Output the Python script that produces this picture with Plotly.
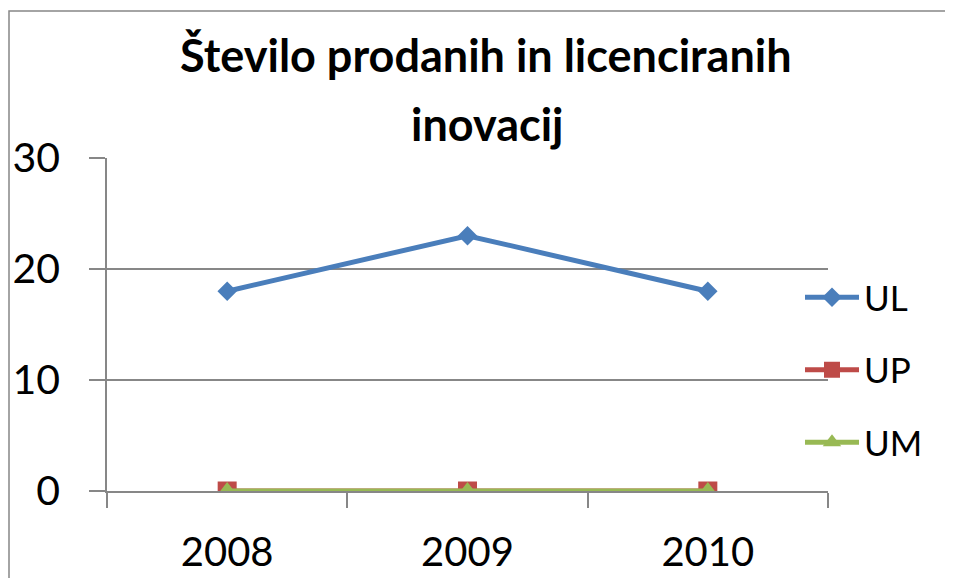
import plotly.graph_objects as go

years = ["2008", "2009", "2010"]
ul = [18, 23, 18]
up = [0, 0, 0]
um = [0, 0, 0]
title_lines = ["Število prodanih in licenciranih", "inovacij"]

# the page body adds an 8px offset; all reference pixel positions are shifted by it
OFF = 8
W, H = 953, 578
L, T = 107 - OFF, 158 - OFF
PR, PB = 828 - OFF, 491 - OFF
R, B = W - PR, H - PB
PW, PH = PR - L, PB - T

def px(x):
    return (x - OFF - L) / PW

def py(y):
    return (PB - (y - OFF)) / PH

FONT = "Lato"
GRID = "#878787"

fig = go.Figure()
fig.add_trace(go.Scatter(x=years, y=ul, name="UL", mode="lines+markers",
                         line=dict(color="#4A7EBB", width=5),
                         marker=dict(symbol="diamond", size=15, color="#4A7EBB"),
                         legendgroup="a"))
fig.add_trace(go.Scatter(x=years, y=up, name="UP", mode="lines+markers",
                         line=dict(color="#BE4B48", width=5),
                         marker=dict(symbol="square", size=19, color="#BE4B48"),
                         legendgroup="b"))
fig.add_trace(go.Scatter(x=years, y=um, name="UM", mode="lines+markers",
                         line=dict(color="#98B954", width=5),
                         marker=dict(symbol="triangle-up", size=18, color="#98B954"),
                         legendgroup="c"))

fig.update_layout(
    width=W, height=H,
    margin=dict(l=L, r=R, t=T, b=B, autoexpand=False),
    paper_bgcolor="white", plot_bgcolor="white",
    font=dict(family=FONT, color="black"),
    showlegend=True,
    legend=dict(x=px(800), y=py(268), xanchor="left", yanchor="top",
                font=dict(family=FONT, size=35, color="black"),
                tracegroupgap=24, itemwidth=54, bgcolor="rgba(0,0,0,0)"),
    xaxis=dict(type="category", range=[-0.5, 2.5], tickson="boundaries",
               ticks="outside", ticklen=15, tickcolor=GRID, tickwidth=1.5,
               showline=True, linecolor=GRID, linewidth=1.5, showgrid=False,
               tickfont=dict(family=FONT, size=40, color="black"),
               ticklabelstandoff=25, fixedrange=True),
    yaxis=dict(range=[0, 30], tickvals=[0, 10, 20, 30], ticks="outside", ticklen=16,
               tickcolor=GRID, tickwidth=1.5, showline=True, linecolor=GRID, linewidth=1.5,
               showgrid=True, gridcolor=GRID, gridwidth=1.5, zeroline=False,
               tickfont=dict(family=FONT, size=41, color="black"),
               ticklabelstandoff=21, fixedrange=True),
)

fig.add_annotation(text="<b>" + title_lines[0] + "</b>", xref="paper", yref="paper",
                   x=px(486), y=py(55), xanchor="center", yanchor="middle",
                   showarrow=False, font=dict(family=FONT, size=45, color="black"))
fig.add_annotation(text="<b>" + title_lines[1] + "</b>", xref="paper", yref="paper",
                   x=px(487), y=py(124), xanchor="center", yanchor="middle",
                   showarrow=False, font=dict(family=FONT, size=45, color="black"))

fig.add_shape(type="rect", xref="paper", yref="paper",
              x0=px(9), x1=px(970), y0=py(600), y1=py(11),
              line=dict(color=GRID, width=1.5), layer="below")

fig.write_html("out.html")
